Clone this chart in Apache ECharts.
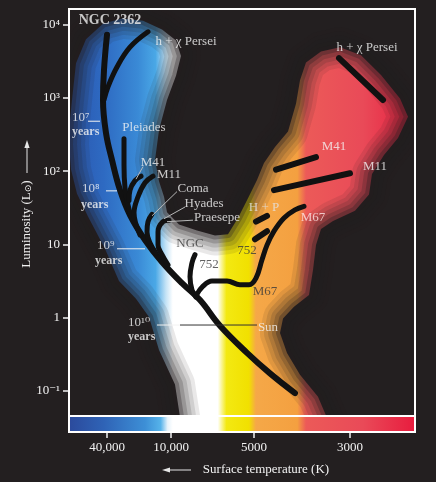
<!DOCTYPE html>
<html>
<head>
<meta charset="utf-8">
<script src="https://cdn.jsdelivr.net/npm/echarts@6/dist/echarts.min.js"></script>
<style>
html,body{margin:0;background:#231f20}
#main{width:436px;height:482px}
</style>
</head>
<body>
<div id="main"></div>
<script>
// x = position along the colour (temperature) scale, y = log10 of luminosity in L_sun
var xMin = 0, xMax = 346, yMin = -1.341, yMax = 4.211;
var tempTicks = [38, 102, 185, 281];
var tempLabels = ['40,000', '10,000', '5000', '3000'];
var lumTicks = [-1, 0, 1, 2, 3, 4];
var lumLabels = ['10⁻¹', '1', '10', '10²', '10³', '10⁴'];

// cluster sequences
var mainSeq = [[38,3.86],[35,3.38],[34,2.97],[37,2.52],[43,2.15],[51,1.74],[61,1.40],[76,1.06],[93,0.76],[113,0.47],[131,0.24],[151,-0.11],[178,-0.48],[201,-0.76],[226,-1.03]];
var hPerseiHook = [[79,3.90],[61,3.69],[48,3.42],[39,3.15],[35,2.97]];
var pleiadesHook = [[55,2.44],[55,2.08],[56,1.77],[59,1.54],[62,1.38]];
var m41Hook = [[72,1.93],[66,1.87],[61,1.74],[60,1.60]];
var m11Hook = [[84,1.93],[76,1.84],[69,1.65],[65,1.43],[71,1.13]];
var comaHook = [[83,1.41],[79,1.31],[78,1.17],[81,1.02],[87,0.88]];
var hyadesHook = [[100,1.33],[94,1.31],[89,1.17],[89,0.99],[93,0.86],[99,0.72]];
var ngc752Hook = [[126,0.86],[123,0.75],[121,0.56],[123,0.38],[127,0.28]];
var m67Branch = [[127,0.30],[134,0.43],[143,0.50],[158,0.50],[171,0.45],[180,0.45],[187,0.54],[193,0.79],[198,0.99],[205,1.18],[215,1.36],[226,1.47],[235,1.52]];
var hpGiantsA = [[187,1.31],[198,1.39]];
var hpGiantsB = [[186,1.07],[198,1.18]];
var m41Giants = [[207,2.02],[247,2.19]];
var m11Giants = [[205,1.74],[281,1.97]];
var hPerseiGiants = [[270,3.54],[314,2.97]];

// outline of the coloured stellar band
var glowBand = [[17,3.80],[34,4.01],[53,4.08],[74,4.05],[93,3.93],[107,3.78],[112,3.57],[107,3.30],[98,2.97],[90,2.56],[86,2.15],[90,1.86],[95,1.65],[98,1.44],[110,1.27],[128,1.19],[146,1.12],[159,1.14],[169,1.36],[179,1.63],[188,1.88],[195,2.11],[206,2.33],[219,2.54],[227,2.92],[231,3.24],[237,3.48],[252,3.63],[271,3.69],[292,3.58],[312,3.31],[331,2.99],[339,2.74],[329,2.45],[315,2.22],[303,1.96],[300,1.68],[286,1.46],[264,1.32],[252,1.21],[247,0.99],[244,0.65],[240,0.31],[225,0.15],[214,-0.01],[211,-0.21],[218,-0.48],[231,-0.78],[249,-1.08],[266,-1.62],[114,-1.62],[106,-0.91],[90,-0.44],[80,0.01],[67,0.26],[50,0.50],[36,0.94],[19,1.38],[8,1.69],[2,2.02],[0,2.36],[1,2.70],[3,2.97],[7,3.47]];

// annotations
var clusterLabels = ['NGC 2362','h + χ Persei','h + χ Persei','Pleiades','M41','M11','Coma','Hyades','Praesepe','NGC','752','752','H + P','M67','M67','M41','M11','Sun'];
var clusterLabelAt = [[41,4.06],[117,3.76],[298,3.68],[75,2.59],[84,2.12],[100,1.95],[124,1.76],[135,1.55],[148,1.36],[121,1.01],[140,0.72],[178,0.92],[195,1.50],[244,1.37],[196,0.35],[265,2.34],[306,2.06],[199,-0.13]];
var ageLabels = ['10⁷', '10⁸', '10⁹', '10¹⁰'];
var ageLabelAt = [[3,2.73],[13,1.76],[28,0.99],[59,-0.06]];
var yearsAt = [[3,2.53],[12,1.54],[26,0.77],[59,-0.26]];
var ageRules = [[[19,2.68],[31,2.68]], [[37,1.73],[48,1.73]], [[48,0.94],[76,0.94]], [[88,-0.10],[111,-0.10]]];
var sunRule = [[111,-0.10],[188,-0.10]];
var leaders = [[[108,1.72],[83,1.39]], [[116,1.51],[95,1.35]], [[124,1.33],[98,1.31]], [[74,2.06],[67,1.89]]];

var bg = '#231f20';
var serif = '"Liberation Serif", "DejaVu Serif", serif';
var onLight = [9, 10, 11, 14];

function stops(list) {
	return list.map(function (s) { return { offset: s[0], color: s[1] }; });
}
var barSpectrum = [[0,'#2b4a9c'],[0.1,'#2f63b6'],[0.22,'#3d8fd6'],[0.265,'#56b3ea'],[0.285,'#e6f3fb'],[0.3,'#ffffff'],[0.43,'#ffffff'],[0.455,'#f3e912'],[0.52,'#f1e000'],[0.54,'#f5a848'],[0.66,'#f4a040'],[0.685,'#ec5a58'],[0.85,'#e94a58'],[1,'#e81c3e']];
var glowSpectrum = [[0,'#2a56ae'],[0.1,'#2e6ac2'],[0.2,'#3a8ad6'],[0.25,'#4aa8e6'],[0.28,'#c4e3f6'],[0.3,'#ffffff'],[0.43,'#ffffff'],[0.455,'#f3e912'],[0.52,'#f1e000'],[0.54,'#f5a848'],[0.66,'#f4a040'],[0.685,'#ec5a58'],[0.85,'#e94a58'],[1,'#e81c3e']];

function curve(data, width, smooth) {
	return {
		type: 'line', data: data, symbol: 'none', silent: true, z: 5,
		smooth: smooth === undefined ? 0.4 : smooth,
		lineStyle: { color: '#111', width: width, cap: 'round', join: 'round' }
	};
}
function rule(data, color) {
	return {
		type: 'line', data: data, symbol: 'none', silent: true, z: 6,
		lineStyle: { color: color, width: 1 }
	};
}

var chart = echarts.init(document.getElementById('main'));

// the spectrum sits behind the plot; everything outside the band outline is masked back to the background
var series = [{
	type: 'custom', clip: true, silent: true, z: 1,
	data: glowBand,
	renderItem: function (params, api) {
		if (params.dataIndex !== 0) return;
		var inner = glowBand.map(function (p) { return api.coord(p); });
		var outer = [[xMin - 10, yMax + 0.3], [xMin - 10, yMin - 0.3], [xMax + 10, yMin - 0.3], [xMax + 10, yMax + 0.3]].map(function (p) { return api.coord(p); });
		var kids = [{ type: 'polygon', shape: { points: outer.concat([outer[0]], inner, [inner[0]]) }, style: { fill: bg } }];
		[[40, 0.1], [32, 0.12], [24, 0.15], [16, 0.2], [8, 0.3]].forEach(function (g) {
			kids.push({
				type: 'polygon', shape: { points: inner },
				style: { fill: 'none', stroke: 'rgba(35,31,32,' + g[1] + ')', lineWidth: g[0], lineJoin: 'round' }
			});
		});
		return { type: 'group', children: kids };
	}
},
	curve(mainSeq, 6),
	curve(hPerseiHook, 5),
	curve(pleiadesHook, 5),
	curve(m41Hook, 5),
	curve(m11Hook, 5),
	curve(comaHook, 5),
	curve(hyadesHook, 5),
	curve(ngc752Hook, 5),
	curve(m67Branch, 5),
	curve(hpGiantsA, 6, false),
	curve(hpGiantsB, 6, false),
	curve(m41Giants, 6, false),
	curve(m11Giants, 6, false),
	curve(hPerseiGiants, 6, false),
	rule(sunRule, '#333')
];
ageRules.forEach(function (r) { series.push(rule(r, '#f2f2f2')); });
leaders.forEach(function (r) { series.push(rule(r, '#b8b8b8')); });

// temperature ticks hang below the colour strip
series.push({
	type: 'custom', clip: false, silent: true, z: 10,
	data: tempTicks.map(function (t) { return [t, yMin]; }),
	renderItem: function (params, api) {
		var p = api.coord([api.value(0), api.value(1)]);
		return { type: 'line', shape: { x1: p[0], y1: p[1] + 16, x2: p[0], y2: p[1] + 22 }, style: { stroke: '#f2f2f2', lineWidth: 1.5 } };
	}
});

series.push({
	type: 'scatter', symbolSize: 0, silent: true, z: 8,
	label: { show: true, position: 'inside', formatter: '{b}', fontFamily: serif, fontSize: 13 },
	data: clusterLabels.map(function (t, i) {
		var ink = onLight.indexOf(i) >= 0 ? '#3a3a3a' : '#f2f2f2';
		if (t === 'H + P') ink = '#e4e4e4';
		if (i === 13) ink = '#fbe6e6';
		return {
			name: t, value: clusterLabelAt[i],
			label: { color: ink, fontWeight: i === 0 ? 'bold' : 'normal', fontSize: i === 0 ? 14 : 13 }
		};
	})
});
series.push({
	type: 'scatter', symbolSize: 0, silent: true, z: 8,
	label: { show: true, position: 'inside', align: 'left', formatter: '{b}', fontFamily: serif, color: '#f2f2f2' },
	data: ageLabels.map(function (t, i) {
		return { name: t, value: ageLabelAt[i], label: { fontSize: 13 } };
	}).concat(yearsAt.map(function (p) {
		return { name: 'years', value: p, label: { fontSize: 12, fontWeight: 'bold' } };
	}))
});

var option = {
	backgroundColor: bg,
	animation: false,
	grid: { left: 69, right: 21, top: 9, bottom: 66 },
	xAxis: {
		type: 'value', min: xMin, max: xMax, offset: 16,
		axisLine: { show: false, onZero: false },
		splitLine: { show: false },
		axisTick: { show: false },
		axisLabel: {
			customValues: tempTicks, margin: 9, color: '#f2f2f2', fontFamily: serif, fontSize: 13,
			formatter: function (v) { return tempLabels[tempTicks.indexOf(v)]; }
		}
	},
	yAxis: {
		type: 'value', min: yMin, max: yMax,
		axisLine: { show: false, onZero: false },
		splitLine: { show: false },
		axisTick: { show: true, customValues: lumTicks, length: 6, lineStyle: { color: '#f2f2f2', width: 1.5 } },
		axisLabel: {
			customValues: lumTicks, margin: 9, color: '#f2f2f2', fontFamily: serif, fontSize: 13,
			formatter: function (v) { return lumLabels[lumTicks.indexOf(v)]; }
		}
	},
	graphic: [
		{ type: 'rect', z: 0, shape: { x: 69, y: 9, width: 346, height: 407 }, style: { fill: new echarts.graphic.LinearGradient(0, 0, 1, 0, stops(glowSpectrum)) } },
		{ type: 'rect', z: 20, shape: { x: 69, y: 416, width: 346, height: 16 }, style: { fill: new echarts.graphic.LinearGradient(0, 0, 1, 0, stops(barSpectrum)) } },
		{ type: 'line', z: 21, shape: { x1: 69, y1: 416, x2: 415, y2: 416 }, style: { stroke: '#fff', lineWidth: 2 } },
		{ type: 'rect', z: 21, shape: { x: 69, y: 9, width: 346, height: 423 }, style: { fill: 'none', stroke: '#fff', lineWidth: 2 } },
		{
			type: 'text', z: 21, x: 27, y: 224, rotation: Math.PI / 2,
			style: {
				text: '{t|Luminosity (L}{s|⊙}{t|)}', align: 'center', verticalAlign: 'middle', fill: '#f2f2f2',
				rich: {
					t: { fontSize: 13, fontFamily: serif, fill: '#f2f2f2' },
					s: { fontSize: 9, fontFamily: '"DejaVu Sans"', fill: '#f2f2f2', verticalAlign: 'bottom' }
				}
			}
		},
		{ type: 'line', z: 21, shape: { x1: 27, y1: 173, x2: 27, y2: 146 }, style: { stroke: '#e6e6e6', lineWidth: 1 } },
		{ type: 'polygon', z: 21, shape: { points: [[27, 140], [24.4, 148], [29.6, 148]] }, style: { fill: '#e6e6e6' } },
		{
			type: 'text', z: 21, x: 266, y: 470,
			style: { text: 'Surface temperature (K)', align: 'center', verticalAlign: 'middle', fill: '#f2f2f2', fontSize: 13, fontFamily: serif }
		},
		{ type: 'line', z: 21, shape: { x1: 168, y1: 470, x2: 191, y2: 470 }, style: { stroke: '#e6e6e6', lineWidth: 1 } },
		{ type: 'polygon', z: 21, shape: { points: [[162, 470], [170, 467.4], [170, 472.6]] }, style: { fill: '#e6e6e6' } }
	],
	series: series
};
chart.setOption(option);
</script>
</body>
</html>
